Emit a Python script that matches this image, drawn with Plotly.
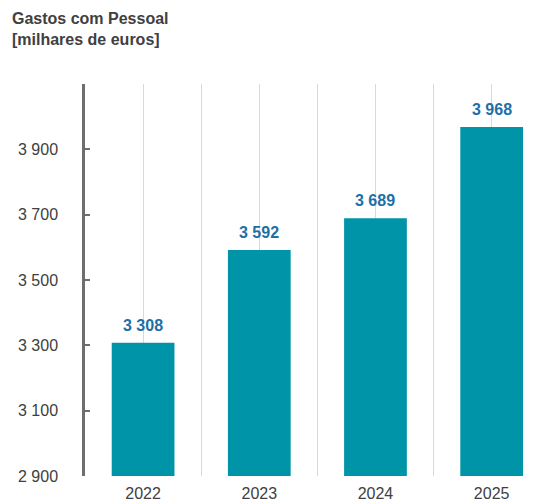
import plotly.graph_objects as go

years = ["2022", "2023", "2024", "2025"]
values = [3308, 3592, 3689, 3968]
y_ticks = [2900, 3100, 3300, 3500, 3700, 3900]
title_text = "<b>Gastos com Pessoal<br>[milhares de euros]</b>"

def fmt(v):
    return f"{v:,}".replace(",", " ")

xpos = list(range(len(years)))
bounds = [i + 0.5 for i in xpos[:-1]]

# page body has an 8px default margin, so the figure is sized to fit the window
W, H = 532, 493
ML, MT, MB = 77, 76, 25
plot_w = W - ML
plot_h = H - MT - MB

fig = go.Figure()
fig.add_trace(go.Bar(
    x=xpos, y=values, width=0.54,
    marker=dict(color="#0094A8", line=dict(width=0)),
    hoverinfo="skip",
))

for x, v in zip(xpos, values):
    fig.add_annotation(
        x=x, y=v, text=fmt(v), showarrow=False,
        yanchor="bottom", yshift=7,
        font=dict(family="Liberation Sans, Arial", size=16, color="#1D6FA5", weight="bold"),
    )

fig.add_annotation(
    xref="paper", yref="paper",
    x=(2 - ML) / plot_w, y=1 + (MT - 0) / plot_h,
    xanchor="left", yanchor="top", align="left",
    text=title_text, showarrow=False,
    font=dict(family="Liberation Sans, Arial", size=16, color="#404040"),
)

fig.update_layout(
    width=W, height=H,
    margin=dict(l=ML, r=0, t=MT, b=MB),
    plot_bgcolor="white", paper_bgcolor="white",
    showlegend=False,
    font=dict(family="Liberation Sans, Arial", size=16, color="#404040"),
    xaxis=dict(
        range=[-0.5, 3.416],
        tickmode="array", tickvals=xpos, ticktext=years,
        showgrid=True, gridcolor="#D9D9D9", gridwidth=1,
        minor=dict(tickmode="array", tickvals=bounds, showgrid=True,
                   gridcolor="#D9D9D9", gridwidth=1, ticks=""),
        zeroline=False, showline=False, ticks="",
        ticklabelstandoff=6,
        tickfont=dict(size=16, color="#404040"),
    ),
    yaxis=dict(
        range=[2900, 4100],
        tickmode="array", tickvals=y_ticks, ticktext=[fmt(t) for t in y_ticks],
        showgrid=False, zeroline=False,
        showline=True, linecolor="#6E6E6E", linewidth=2.5,
        ticks="inside", ticklen=5, tickwidth=2, tickcolor="#6E6E6E",
        ticklabelstandoff=21,
        tickfont=dict(size=16, color="#404040"),
    ),
)

fig.write_html("out.html")
